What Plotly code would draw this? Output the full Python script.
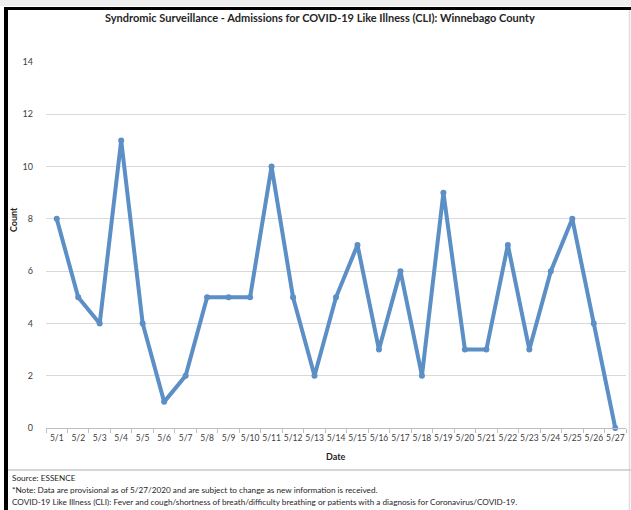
import plotly.graph_objects as go

dates = ["5/1","5/2","5/3","5/4","5/5","5/6","5/7","5/8","5/9","5/10","5/11","5/12","5/13","5/14",
         "5/15","5/16","5/17","5/18","5/19","5/20","5/21","5/22","5/23","5/24","5/25","5/26","5/27"]
counts = [8,5,4,11,4,1,2,5,5,5,10,5,2,5,7,3,6,2,9,3,3,7,3,6,8,4,0]
y_ticks = [0,2,4,6,8,10,12,14]

title = "Syndromic Surveillance - Admissions for COVID-19 Like Illness (CLI): Winnebago County"
notes = ["Source: ESSENCE",
         "*Note: Data are provisional as of 5/27/2020 and are subject to change as new information is received.",
         "COVID-19 Like Illness (CLI): Fever and cough/shortness of breath/difficulty breathing or patients with a diagnosis for Coronavirus/COVID-19."]

W, H = 631, 510
FONT = "Lato"

def px(x): return x / W
def py(y): return 1 - y / H

fig = go.Figure()
fig.add_trace(go.Scatter(
    x=dates, y=counts, mode="lines+markers",
    line=dict(color="#5B8FC6", width=4),
    marker=dict(color="#5B8FC6", size=6),
    cliponaxis=False, showlegend=False))

fig.update_layout(
    width=W, height=H,
    margin=dict(l=0, r=0, t=0, b=0, autoexpand=False),
    paper_bgcolor="white", plot_bgcolor="white",
    font=dict(family=FONT, color="#595959", size=9),
    xaxis=dict(domain=[px(46), px(626)], type="category", range=[-0.5, 26.5],
               showgrid=False, showline=True, linecolor="#bfbfbf", linewidth=1,
               ticks="outside", tickson="boundaries", ticklen=4, tickcolor="#bfbfbf",
               tickangle=0, ticklabelstandoff=2,
               tickfont=dict(size=8.5, color="#404040", family=FONT), automargin=False),
    yaxis=dict(domain=[py(428), py(62)], range=[0, 14], tickvals=y_ticks,
               showgrid=True, gridcolor="#d9d9d9", gridwidth=1, zeroline=False,
               showline=False, ticks="", ticklabelstandoff=12,
               tickfont=dict(size=9, color="#404040", family=FONT), automargin=False),
)

shapes = [
    dict(type="rect", xref="paper", yref="paper", x0=0, x1=1, y0=py(6), y1=1,
         fillcolor="#eeeeee", line=dict(width=0), layer="above"),
    dict(type="rect", xref="paper", yref="paper", x0=px(4), x1=1, y0=py(10), y1=py(7),
         fillcolor="black", line=dict(width=0), layer="above"),
    dict(type="rect", xref="paper", yref="paper", x0=px(4), x1=px(8), y0=0, y1=py(7),
         fillcolor="black", line=dict(width=0), layer="above"),
    dict(type="line", xref="paper", yref="paper", x0=px(629.5), x1=px(629.5), y0=0, y1=py(10),
         line=dict(color="#dddddd", width=1.5)),
    dict(type="line", xref="paper", yref="paper", x0=px(8), x1=1, y0=py(470), y1=py(470),
         line=dict(color="#c8c8c8", width=1.5)),
]
fig.update_layout(shapes=shapes)

ann = [
    dict(text=f"<b>{title}</b>", x=px(320), y=py(18), xanchor="center", yanchor="middle",
         font=dict(size=11, color="#262626", family=FONT)),
    dict(text="<b>Date</b>", x=px(336), y=py(456), xanchor="center", yanchor="middle",
         font=dict(size=9, color="#262626", family=FONT)),
    dict(text="<b>Count</b>", x=px(13), y=py(220), xanchor="center", yanchor="middle",
         textangle=-90, font=dict(size=9, color="#262626", family=FONT)),
]
for i, t in enumerate(notes):
    ann.append(dict(text=t, x=px(10), y=py(478 + 12 * i), xanchor="left", yanchor="middle",
                    font=dict(size=8.2, color="#262626", family=FONT)))
for a in ann:
    a.update(xref="paper", yref="paper", showarrow=False)
fig.update_layout(annotations=ann)

fig.write_html("out.html", config={"displayModeBar": False},
               post_script="document.body.style.margin='0';document.body.style.overflow='hidden';")
